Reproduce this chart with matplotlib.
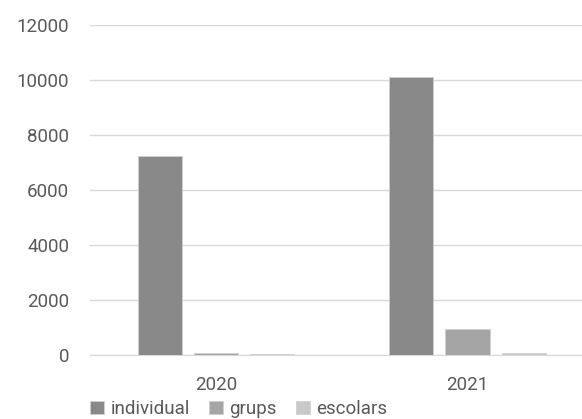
import numpy as np
import matplotlib
matplotlib.use('Agg')
import matplotlib.pyplot as plt

years = ['2020', '2021']
individual = [7230, 10100]
grups = [70, 950]
escolars = [40, 60]
series_names = ['individual', 'grups', 'escolars']
colors = ['#898989', '#a5a5a5', '#c9c9c9']

plt.rcParams['font.family'] = ['Roboto', 'DejaVu Sans']
txtcol = '#595959'

fig = plt.figure(figsize=(5.82, 4.19), dpi=100)
ax = fig.add_axes([90/582, 64/419, 492/582, 330/419])

x = np.arange(len(years))
w = 0.175
step = 0.223
for i, (vals, name) in enumerate(zip([individual, grups, escolars], series_names)):
    ax.bar(x + (i-1)*step, vals, w, color=colors[i], label=name,
           edgecolor='#d0d0d0', linewidth=0.6, zorder=3)

ax.set_ylim(0, 12000)
ax.set_xlim(-0.5, 1.455)
ax.set_yticks(range(0, 12001, 2000))
ax.set_xticks(x)
ax.set_xticklabels(years)
ax.yaxis.grid(True, color='#d9d9d9', linewidth=1, zorder=0)
for s in ['top', 'right', 'left']:
    ax.spines[s].set_visible(False)
ax.spines['bottom'].set_color('#d9d9d9')
ax.tick_params(axis='both', length=0, labelsize=13.5, colors=txtcol)
ax.tick_params(axis='y', pad=15)
ax.tick_params(axis='x', pad=15)

leg = fig.legend(loc='center', bbox_to_anchor=(0.41, 10/419), ncol=3, frameon=False,
                 fontsize=13.5, handlelength=0.75, handleheight=0.75,
                 handletextpad=0.35, columnspacing=1.0, labelcolor=txtcol)

fig.savefig('out.png', dpi=100)
